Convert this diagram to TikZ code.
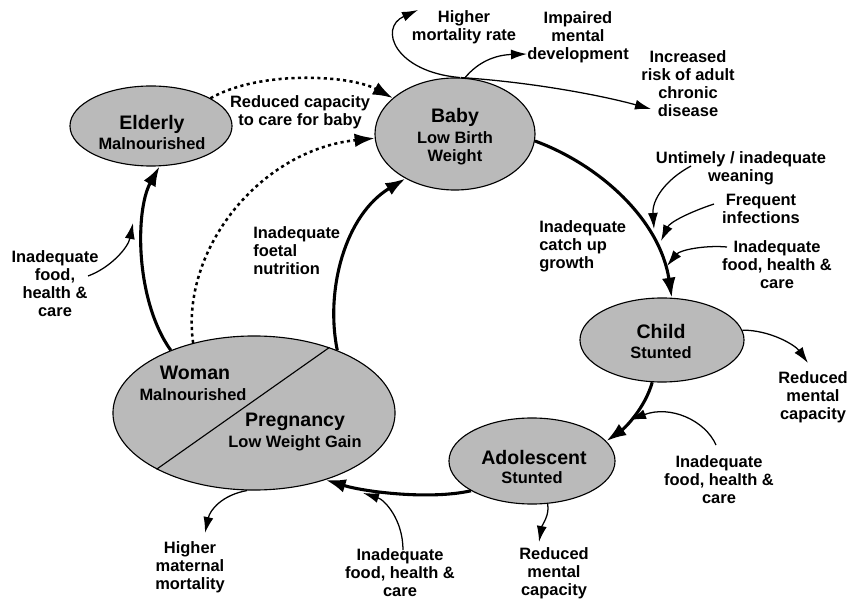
\documentclass[tikz,border=0pt]{standalone}
\usepackage{fontspec}
\setmainfont{Liberation Sans}
\usetikzlibrary{arrows.meta,shapes.geometric}

\begin{document}
\begin{tikzpicture}[
  x=0.025cm, y=-0.025cm,
  stage/.style={draw, ellipse, fill=black!27, line width=0.8pt, inner sep=0pt},
  title/.style={inner sep=0pt, font=\fontsize{13.9}{15}\selectfont\bfseries},
  sub/.style={inner sep=0pt, align=center, font=\fontsize{11.7}{12.8}\selectfont\bfseries},
  txt/.style={inner sep=0pt, align=center, font=\fontsize{11.7}{12.8}\selectfont\bfseries},
  cycle/.style={line width=2.2pt, -{Latex[length=5mm,width=3.4mm]}},
  care/.style={line width=1.8pt, dash pattern=on 2.2pt off 2.4pt, -{Latex[length=5mm,width=3.4mm]}},
  effect/.style={line width=0.9pt, -{Latex[length=4mm,width=2.5mm]}}
]
  \useasboundingbox (0,0) rectangle (848,602);

  % life stages
  \node[stage, minimum width=4.05cm, minimum height=2cm] (elderly) at (151,126) {};
  \node[stage, minimum width=4cm, minimum height=2.8cm] (baby) at (455,134) {};
  \node[stage, minimum width=4.1cm, minimum height=2.1cm] (child) at (662,340) {};
  \node[stage, minimum width=4.15cm, minimum height=2.15cm] (adol) at (532,461) {};
  \node[stage, minimum width=7.05cm, minimum height=3.85cm] (woman) at (254,413) {};
  \draw[line width=0.8pt] (woman.210) -- (woman.41);

  % stage texts
  \node[title] (elderlyT) at (152,124) {Elderly};
  \node[sub] (elderlyS) at (152,144) {Malnourished};
  \node[title] (babyT) at (455,117) {Baby};
  \node[sub] (babyS) at (455,148) {Low Birth\\Weight};
  \node[title] (childT) at (661,332) {Child};
  \node[sub] (childS) at (661,353) {Stunted};
  \node[title] (adolT) at (534,458) {Adolescent};
  \node[sub] (adolS) at (532,478) {Stunted};
  \node[title] (womanT) at (195,373) {Woman};
  \node[sub] (womanS) at (193,395) {Malnourished};
  \node[title] (pregT) at (295,422) {Pregnancy};
  \node[sub] (pregS) at (295,443) {Low Weight Gain};

  % labels
  \node[txt] (hmort) at (464,27) {Higher\\mortality rate};
  \node[txt] (impair) at (578,37) {Impaired\\mental\\development};
  \node[txt] (chronic) at (688,84) {Increased\\risk of adult\\chronic\\disease};
  \node[txt] (capacity) at (300,112) {Reduced capacity\\to care for baby};
  \node[txt, anchor=west, align=left] (foetal) at (253,251) {Inadequate\\foetal\\nutrition};
  \node[txt, anchor=west, align=left] (catchup) at (539,246) {Inadequate\\catch up\\growth};
  \node[txt] (weaning) at (741,168) {Untimely / inadequate\\weaning};
  \node[txt] (infect) at (761,209) {Frequent\\infections};
  \node[txt] (foodC) at (777,265) {Inadequate\\food, health \&\\care};
  \node[txt] (mentalC) at (813,397) {Reduced\\mental\\capacity};
  \node[txt] (foodA) at (719,480) {Inadequate\\food, health \&\\care};
  \node[txt] (mentalA) at (554,573) {Reduced\\mental\\capacity};
  \node[txt] (foodW) at (400,573) {Inadequate\\food, health \&\\care};
  \node[txt] (maternal) at (190,567) {Higher\\maternal\\mortality};
  \node[txt] (foodE) at (55,284) {Inadequate\\food,\\health \&\\care};

  % free ends of the thin arrows
  \coordinate (hmortTip) at (418,10);
  \coordinate (impairTip) at (527,54);
  \coordinate (chronicTip) at (651,109);
  \coordinate (weaningFrom) at (691,166);
  \coordinate (weaningTip) at (654,229);
  \coordinate (infectFrom) at (714,204);
  \coordinate (infectTip) at (661,241);
  \coordinate (foodCFrom) at (727,247);
  \coordinate (foodCTip) at (667,266);
  \coordinate (mentalCTip) at (808,363);
  \coordinate (foodAFrom) at (716,445);
  \coordinate (foodATip) at (630,420);
  \coordinate (mentalATip) at (539,542);
  \coordinate (foodWFrom) at (403,550);
  \coordinate (foodWTip) at (363,493);
  \coordinate (maternalTip) at (205,533);
  \coordinate (foodEFrom) at (88,276);
  \coordinate (foodETip) at (133,223);

  % main cycle
  \draw[cycle] (baby.-5) .. controls (600,165) and (660,220) .. (child.77);
  \draw[cycle] (child.-103) .. controls (645,408) and (625,428) .. (adol.15);
  \draw[cycle] (adol.206) .. controls (430,500) and (365,492) .. (woman.-43);
  \draw[cycle] (woman.37) .. controls (325,290) and (345,215) .. (baby.222);
  \draw[cycle] (woman.143) .. controls (135,300) and (135,210) .. (elderly.-78);

  % dotted links
  \draw[care] (elderly.25) .. controls (260,70) and (350,75) .. (baby.150);
  \draw[care] (woman.131) .. controls (180,250) and (260,150) .. (baby.183);

  % outcomes of low birth weight
  \draw[effect] (baby.85) .. controls (395,72) and (378,28) .. (hmortTip);
  \draw[effect] (baby.80) .. controls (478,62) and (495,55) .. (impairTip);
  \draw[effect] (baby.84) .. controls (530,82) and (600,95) .. (chronicTip);

  % inputs to the child arrow
  \draw[effect] (weaningFrom) .. controls (665,180) and (652,200) .. (weaningTip);
  \draw[effect] (infectFrom) .. controls (690,212) and (670,222) .. (infectTip);
  \draw[effect] (foodCFrom) .. controls (705,245) and (680,250) .. (foodCTip);

  % other outcomes and inputs
  \draw[effect] (child.7) .. controls (770,330) and (795,345) .. (mentalCTip);
  \draw[effect] (foodAFrom) .. controls (705,420) and (670,405) .. (foodATip);
  \draw[effect] (adol.-70) .. controls (550,515) and (542,525) .. (mentalATip);
  \draw[effect] (foodWFrom) .. controls (403,520) and (385,500) .. (foodWTip);
  \draw[effect] (woman.-95) .. controls (222,495) and (210,510) .. (maternalTip);
  \draw[effect] (foodEFrom) .. controls (110,268) and (128,248) .. (foodETip);

\end{tikzpicture}
\end{document}
